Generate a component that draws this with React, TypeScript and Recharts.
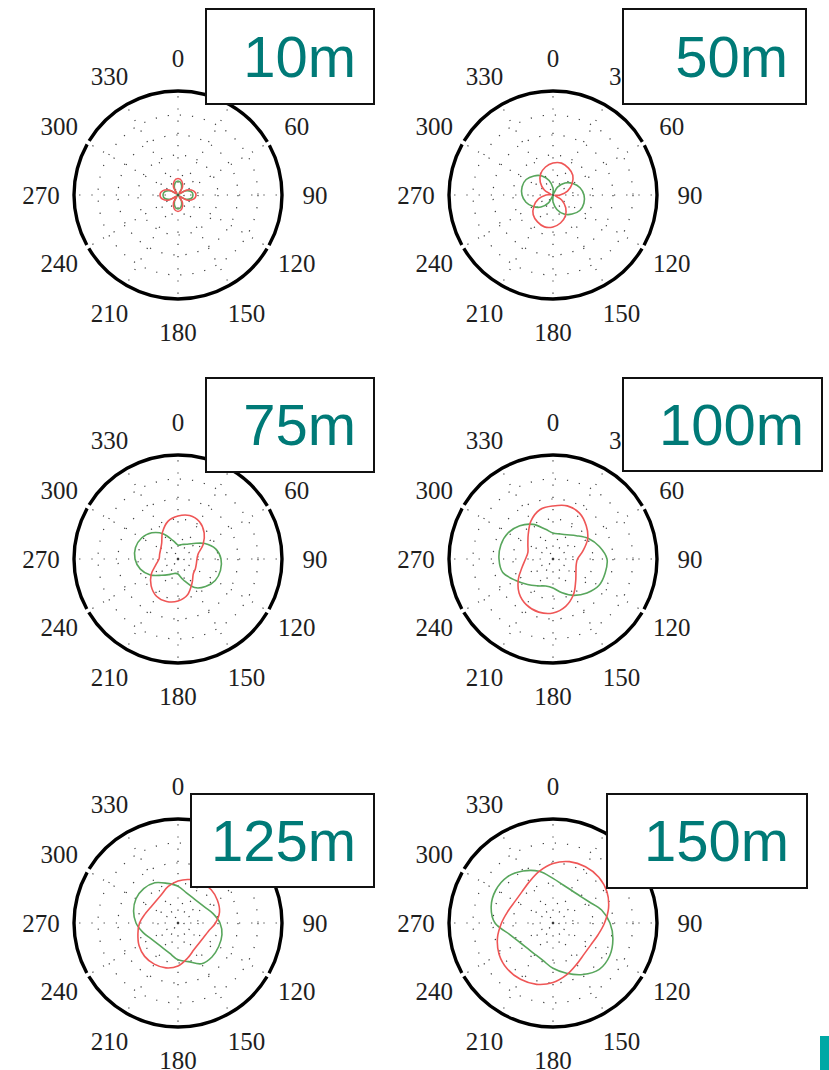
import React from "react";
import {
  RadarChart,
  Radar,
  PolarGrid,
  PolarAngleAxis,
  PolarRadiusAxis,
} from "recharts";

// compass angles (0 = up, clockwise), one sample every 15 degrees
const ANGLES = [
  0, 15, 30, 45, 60, 75, 90, 105, 120, 135, 150, 165,
  180, 195, 210, 225, 240, 255, 270, 285, 300, 315, 330, 345,
];

// radial amplitude (outer ring = 104)
const RED_10 = [16.5, 14.5, 9, 2, 10, 16, 18, 16, 10, 2, 9, 14.5, 16.5, 14.5, 9, 2, 10, 16, 18, 16, 10, 2, 9, 14.5];
const GREEN_10 = [14, 12, 7, 1.5, 8, 13.5, 15, 13.5, 8, 1.5, 7, 12, 14, 12, 7, 1.5, 8, 13.5, 15, 13.5, 8, 1.5, 7, 12];

const RED_50 = [32, 33, 31, 28, 22, 15, 7, 2, 10, 18, 24.5, 29, 32, 33, 31, 28, 22, 15, 7, 2, 10, 18, 24.5, 29];
const GREEN_50 = [7, 1, 9, 17, 23, 28, 31, 32, 31, 27, 22, 15, 7, 1, 9, 17, 23, 28, 31, 32, 31, 27, 22, 15];

const RED_75 = [43, 45, 43, 37, 29, 21, 19, 19, 20, 21.5, 28, 37, 42, 44, 43, 38, 31, 23, 19, 19, 20, 23, 31, 39];
const GREEN_75 = [14, 15, 17, 22, 31, 39, 43, 44, 43, 39, 33, 22, 15, 15, 18, 23, 32, 39, 43, 44, 42, 37, 29, 19];

const RED_100 = [53, 55, 53, 47, 40, 31, 24.5, 24, 26.5, 32, 41, 49, 54, 55, 53, 48, 40, 32, 27.5, 26, 29, 35, 44, 51];
const GREEN_100 = [26, 26, 28, 33, 41, 48, 54, 54, 53, 48, 42, 35, 29, 28, 31, 36, 43, 52, 54, 54, 52, 47, 40, 31];

const RED_125 = [42, 45, 46.5, 47, 45.5, 43, 37.5, 31.5, 29.3, 29.2, 31.3, 36.5, 43, 46.5, 47.5, 47.2, 45, 41.5, 38.5, 34.2, 31.5, 31.1, 33, 37.8];
const GREEN_125 = [36.8, 31.5, 29.3, 29.2, 31.3, 36.3, 42, 45.5, 47, 48, 47, 40, 36.8, 31.5, 29.3, 29.2, 31.3, 36.3, 42, 46, 48.5, 48.5, 46.5, 41];

const RED_150 = [59.5, 63.5, 65, 64.8, 62.3, 57.5, 51.5, 46.5, 43.7, 44, 47.5, 53.5, 59.5, 63.5, 65, 64.8, 62.3, 57.5, 51.5, 46.5, 43.7, 44, 47.5, 53.5];
const GREEN_150 = [44.6, 39.3, 37.5, 38.2, 42, 50.3, 57, 62, 65.5, 65.5, 59.5, 52, 45.3, 38.8, 36.1, 36, 38.5, 44.7, 58, 64, 66, 65, 60, 53.5];

const TICK_ANGLES = [0, 30, 60, 90, 120, 150, 180, 210, 240, 270, 300, 330];
const LABELS = ["10m", "50m", "75m", "100m", "125m", "150m"];

const SIZE = 330;
const C = SIZE / 2;
const R = 104;
const LABEL_R = 137;
const RMAX = 104;

const RED = "#ef5656";
const GREEN = "#58a65c";
const TEAL = "#007a77";

// outer ring: gaps at 60/120/240/300, svg circle starts at 3 o'clock
const ARC = (2 * Math.PI * R) / 12;
const GAP = 4;
const RING_DASH = [
  ARC - GAP / 2, GAP, 4 * ARC - GAP, GAP, 2 * ARC - GAP, GAP, 4 * ARC - GAP, GAP, ARC - GAP / 2,
].join(" ");

const panels = [
  { label: LABELS[0], red: RED_10, green: GREEN_10, cx: 178, cy: 195, box: { left: 205, top: 8, width: 170, height: 97 } },
  { label: LABELS[1], red: RED_50, green: GREEN_50, cx: 553, cy: 195, box: { left: 622, top: 8, width: 185, height: 97 } },
  { label: LABELS[2], red: RED_75, green: GREEN_75, cx: 178, cy: 559, box: { left: 205, top: 377, width: 170, height: 96 } },
  { label: LABELS[3], red: RED_100, green: GREEN_100, cx: 553, cy: 559, box: { left: 622, top: 377, width: 201, height: 95 } },
  { label: LABELS[4], red: RED_125, green: GREEN_125, cx: 178, cy: 923, box: { left: 190, top: 793, width: 185, height: 95 } },
  { label: LABELS[5], red: RED_150, green: GREEN_150, cx: 553, cy: 923, box: { left: 606, top: 793, width: 202, height: 96 } },
];

// closed catmull-rom through the points recharts computed
const smoothPath = (pts: { x: number; y: number }[]) => {
  const n = pts.length;
  let d = `M${pts[0].x},${pts[0].y}`;
  for (let i = 0; i < n; i++) {
    const p0 = pts[(i - 1 + n) % n];
    const p1 = pts[i];
    const p2 = pts[(i + 1) % n];
    const p3 = pts[(i + 2) % n];
    const c1x = p1.x + (p2.x - p0.x) / 6;
    const c1y = p1.y + (p2.y - p0.y) / 6;
    const c2x = p2.x - (p3.x - p1.x) / 6;
    const c2y = p2.y - (p3.y - p1.y) / 6;
    d += ` C${c1x},${c1y} ${c2x},${c2y} ${p2.x},${p2.y}`;
  }
  return d + " Z";
};

const SmoothShape = (props: any) => {
  const pts = props.points || [];
  if (!pts.length) return null;
  return (
    <path d={smoothPath(pts)} fill="none" stroke={props.stroke} strokeWidth={props.strokeWidth} />
  );
};

const AngleTick = (props: any) => {
  const deg = Number(props.payload?.value);
  if (deg % 30 !== 0) return null;
  const rad = (deg * Math.PI) / 180;
  return (
    <text
      x={C + LABEL_R * Math.sin(rad)}
      y={C - LABEL_R * Math.cos(rad)}
      textAnchor="middle"
      dominantBaseline="central"
      fontFamily="'Liberation Serif', 'DejaVu Serif', serif"
      fontSize={25}
      fill="#1e1e1e"
    >
      {deg}
    </text>
  );
};

function Panel({ p }: { p: (typeof panels)[number] }) {
  const data = ANGLES.map((a, i) => ({ angle: a, red: p.red[i], green: p.green[i] }));
  return (
    <>
      <div style={{ position: "absolute", left: p.cx - C, top: p.cy - C }}>
        <RadarChart
          width={SIZE}
          height={SIZE}
          data={data}
          cx={C}
          cy={C}
          outerRadius={R}
          startAngle={90}
          endAngle={-270}
          margin={{ top: 0, right: 0, bottom: 0, left: 0 }}
        >
          <PolarGrid
            gridType="circle"
            polarAngles={TICK_ANGLES.map((a) => 90 - a)}
            polarRadius={[6, 20, 40, 60, 80]}
            stroke="#3a3a3a"
            strokeWidth={1.2}
            strokeDasharray="1.2 11"
          />
          <PolarAngleAxis
            dataKey="angle"
            axisLineType="circle"
            axisLine={{ stroke: "#000", strokeWidth: 3.4, strokeDasharray: RING_DASH }}
            tickLine={false}
            tick={AngleTick}
          />
          <PolarRadiusAxis domain={[0, RMAX]} tick={false} axisLine={false} />
          <Radar
            dataKey="green"
            stroke={GREEN}
            strokeWidth={1.6}
            fill="none"
            shape={SmoothShape}
            isAnimationActive={false}
          />
          <Radar
            dataKey="red"
            stroke={RED}
            strokeWidth={1.6}
            fill="none"
            shape={SmoothShape}
            isAnimationActive={false}
          />
        </RadarChart>
      </div>
      <div
        style={{
          position: "absolute",
          ...p.box,
          boxSizing: "border-box",
          border: "2.5px solid #111",
          background: "#fff",
          display: "flex",
          alignItems: "center",
          justifyContent: "flex-end",
          paddingRight: 17,
          fontFamily: "'Liberation Sans', Arial, Helvetica, sans-serif",
          fontSize: 58,
          lineHeight: 1,
          color: TEAL,
        }}
      >
        {p.label}
      </div>
    </>
  );
}

export default function App() {
  return (
    <div style={{ position: "absolute", left: 0, top: 0, width: 829, height: 1070, background: "#fff" }}>
      {panels.map((p) => (
        <Panel key={p.label} p={p} />
      ))}
      <div style={{ position: "absolute", left: 820, top: 1036, width: 9, height: 34, background: "#00a8a5" }} />
    </div>
  );
}
